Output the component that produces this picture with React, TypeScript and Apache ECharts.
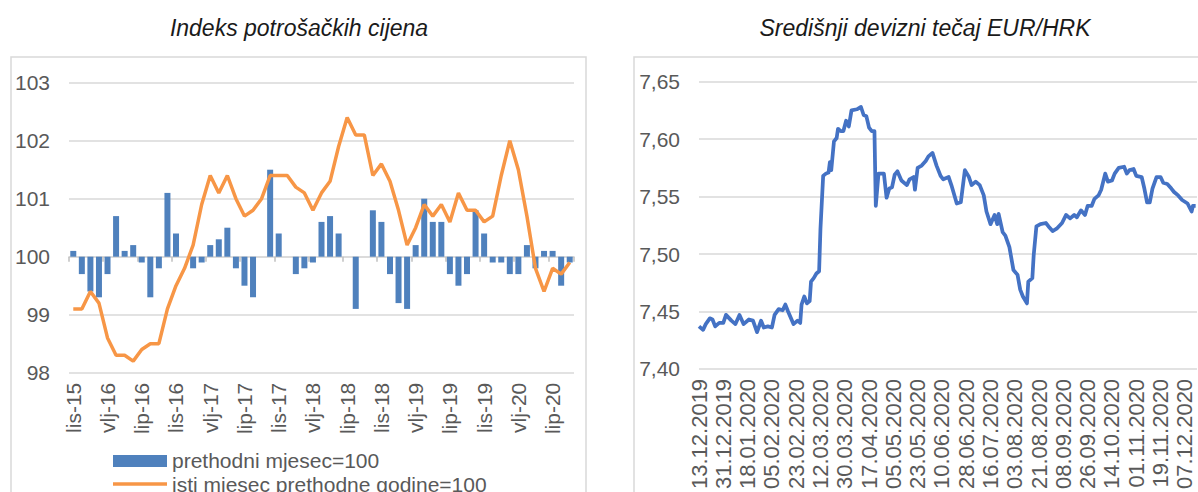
import React, { useEffect, useRef } from "react";
import * as echarts from "echarts";

// ---------- Left chart: consumer price index ----------
const MONTH_ABBR = ["sij", "vlj", "ožu", "tra", "svi", "lip", "srp", "kol", "ruj", "lis", "stu", "pro"];
const CPI_START_YEAR = 2015;
const CPI_START_MONTH = 9; // listopad (October), 0-based
const CPI_BASE = 100;

// prethodni mjesec = 100
const cpiMonthOnMonth = [
  100.1, 99.7, 99.4, 99.3, 99.7, 100.7, 100.1, 100.2, 99.9, 99.3,
  99.8, 101.1, 100.4, 100.0, 99.8, 99.9, 100.2, 100.3, 100.5, 99.8,
  99.5, 99.3, 100.0, 101.5, 100.4, 100.0, 99.7, 99.8, 99.9, 100.6,
  100.7, 100.4, 100.0, 99.1, 100.0, 100.8, 100.6, 99.7, 99.2, 99.1,
  100.2, 101.0, 100.6, 100.6, 99.7, 99.5, 99.7, 100.8, 100.4, 99.9,
  99.9, 99.7, 99.7, 100.2, 99.8, 100.1, 100.1, 99.5, 99.9,
];

// isti mjesec prethodne godine = 100
const cpiYearOnYear = [
  99.1, 99.1, 99.4, 99.2, 98.6, 98.3, 98.3, 98.2, 98.4, 98.5,
  98.5, 99.1, 99.5, 99.8, 100.2, 100.9, 101.4, 101.1, 101.4, 101.0,
  100.7, 100.8, 101.0, 101.4, 101.4, 101.4, 101.2, 101.1, 100.8, 101.1,
  101.3, 101.9, 102.4, 102.1, 102.1, 101.4, 101.6, 101.3, 100.8, 100.2,
  100.5, 100.9, 100.7, 100.9, 100.6, 101.1, 100.8, 100.8, 100.6, 100.7,
  101.4, 102.0, 101.5, 100.7, 99.8, 99.4, 99.8, 99.7, 99.9,
];

const cpiCategories = cpiMonthOnMonth.map((_, i) => {
  const k = CPI_START_MONTH + i;
  const m = k % 12;
  const y = CPI_START_YEAR + Math.floor(k / 12);
  return `${MONTH_ABBR[m]}-${String(y).slice(2)}`;
});

// ---------- Right chart: EUR/HRK central rate ----------
const RATE_START = Date.UTC(2019, 11, 13); // 13.12.2019
const RATE_DAY_COUNT = 370; // calendar days on the axis
// days after 13.12.2019
const rateDayOffsets = [
  0, 3, 5, 8, 10, 12, 15, 18, 20, 24, 27, 30, 33, 37, 40, 43, 46, 48, 51, 54,
  56, 59, 62, 64, 66, 70, 73, 75, 76, 78, 80, 82, 83, 85, 87, 89, 90, 92, 94, 96,
  97, 98, 100, 102, 103, 105, 107, 109, 111, 113, 117, 120, 122, 124, 126, 128, 130, 131, 133, 137,
  139, 141, 143, 145, 147, 150, 154, 156, 159, 160, 162, 165, 168, 170, 173, 176, 179, 181, 185, 187,
  191, 194, 197, 200, 202, 205, 208, 211, 213, 216, 219, 221, 222, 225, 227, 230, 233, 236, 238, 240,
  243, 244, 247, 248, 250, 253, 257, 259, 262, 265, 269, 272, 275, 278, 280, 283, 286, 288, 291, 293,
  296, 298, 301, 303, 306, 308, 311, 315, 317, 319, 322, 324, 328, 330, 332, 334, 336, 339, 342, 344,
  347, 350, 352, 355, 358, 362, 365, 366, 368,
];
const rateValues = [
  7.437, 7.434, 7.439, 7.444, 7.443, 7.437, 7.440, 7.440, 7.447, 7.442, 7.439, 7.447, 7.439, 7.443, 7.442, 7.432, 7.442, 7.436, 7.437, 7.436,
  7.447, 7.452, 7.451, 7.456, 7.450, 7.439, 7.442, 7.440, 7.456, 7.463, 7.457, 7.459, 7.476, 7.479, 7.483, 7.485, 7.522, 7.568, 7.570, 7.571,
  7.580, 7.573, 7.598, 7.601, 7.609, 7.607, 7.607, 7.616, 7.611, 7.625, 7.626, 7.628, 7.621, 7.620, 7.610, 7.607, 7.607, 7.542, 7.570, 7.570,
  7.549, 7.557, 7.558, 7.569, 7.572, 7.564, 7.560, 7.565, 7.567, 7.556, 7.575, 7.577, 7.581, 7.585, 7.588, 7.577, 7.568, 7.565, 7.567, 7.560,
  7.544, 7.545, 7.573, 7.567, 7.560, 7.563, 7.560, 7.551, 7.537, 7.526, 7.534, 7.526, 7.535, 7.519, 7.516, 7.506, 7.486, 7.482, 7.469, 7.463,
  7.457, 7.476, 7.479, 7.499, 7.524, 7.526, 7.527, 7.524, 7.520, 7.522, 7.527, 7.534, 7.531, 7.534, 7.532, 7.538, 7.534, 7.542, 7.542, 7.548,
  7.551, 7.556, 7.570, 7.563, 7.564, 7.570, 7.575, 7.576, 7.570, 7.573, 7.574, 7.568, 7.567, 7.557, 7.545, 7.545, 7.557, 7.567, 7.567, 7.562,
  7.561, 7.557, 7.554, 7.551, 7.547, 7.544, 7.537, 7.542, 7.542,
];

const pad2 = (n: number) => (n < 10 ? "0" + n : String(n));
const rateCategories: string[] = [];
for (let d = 0; d < RATE_DAY_COUNT; d++) {
  const dt = new Date(RATE_START + d * 86400000);
  rateCategories.push(`${pad2(dt.getUTCDate())}.${pad2(dt.getUTCMonth() + 1)}.${dt.getUTCFullYear()}`);
}
const rateSeriesData: (number | null)[] = rateCategories.map(() => null);
rateDayOffsets.forEach((d, i) => {
  rateSeriesData[d] = rateValues[i];
});

// ---------- Styling ----------
const FONT = '"Liberation Sans", Arial, sans-serif';
const GRID_COLOR = "#d9d9d9";
const LABEL_COLOR = "#595959";
const BAR_COLOR = "#4F81BD";
const ORANGE = "#F79646";
const RATE_BLUE = "#4472C4";

export default function App() {
  const ref = useRef<HTMLDivElement>(null);

  useEffect(() => {
    if (!ref.current) return;
    const chart = echarts.init(ref.current, null, { renderer: "svg" });

    const option: any = {
      animation: false,
      textStyle: { fontFamily: FONT },
      graphic: [
        {
          type: "rect",
          shape: { x: 11, y: 57, width: 575, height: 480 },
          style: { fill: "none", stroke: GRID_COLOR, lineWidth: 1.5 },
          silent: true,
        },
        {
          type: "rect",
          shape: { x: 634, y: 57, width: 620, height: 480 },
          style: { fill: "none", stroke: GRID_COLOR, lineWidth: 1.5 },
          silent: true,
        },
        {
          type: "text",
          x: 299,
          y: 28,
          style: {
            text: "Indeks potrošačkih cijena",
            fontFamily: FONT,
            fontSize: 23,
            fontStyle: "italic",
            fill: "#1a1a1a",
            align: "center",
            verticalAlign: "middle",
          },
        },
        {
          type: "text",
          x: 925,
          y: 28,
          style: {
            text: "Središnji devizni tečaj EUR/HRK",
            fontFamily: FONT,
            fontSize: 23,
            fontStyle: "italic",
            fill: "#1a1a1a",
            align: "center",
            verticalAlign: "middle",
          },
        },
        {
          type: "rect",
          shape: { x: 113, y: 455, width: 54, height: 12 },
          style: { fill: BAR_COLOR },
        },
        {
          type: "line",
          shape: { x1: 113, y1: 484, x2: 167, y2: 484 },
          style: { stroke: ORANGE, lineWidth: 3.5 },
        },
        {
          type: "text",
          x: 172,
          y: 460,
          style: {
            text: "prethodni mjesec=100",
            fontFamily: FONT,
            fontSize: 21,
            fill: LABEL_COLOR,
            align: "left",
            verticalAlign: "middle",
          },
        },
        {
          type: "text",
          x: 172,
          y: 484,
          style: {
            text: "isti mjesec prethodne godine=100",
            fontFamily: FONT,
            fontSize: 21,
            fill: LABEL_COLOR,
            align: "left",
            verticalAlign: "middle",
          },
        },
      ],
      grid: [
        { left: 69, top: 82.7, width: 505, height: 290 },
        { left: 699, top: 81.7, width: 498, height: 290 },
      ],
      xAxis: [
        {
          gridIndex: 0,
          type: "category",
          data: cpiCategories,
          position: "top",
          boundaryGap: true,
          axisLine: { show: true, onZero: true, lineStyle: { color: GRID_COLOR, width: 1.5 } },
          axisTick: { show: true, inside: true, interval: 3, length: 5, lineStyle: { color: "#bfbfbf", width: 1.5 } },
          axisLabel: { show: false },
          splitLine: { show: false },
        },
        {
          gridIndex: 0,
          type: "category",
          data: cpiCategories,
          position: "bottom",
          boundaryGap: true,
          axisLine: { show: false, onZero: false },
          axisTick: { show: false },
          axisLabel: {
            interval: 3,
            rotate: 90,
            fontSize: 21,
            fontFamily: FONT,
            color: LABEL_COLOR,
            margin: 10,
          },
          splitLine: { show: false },
        },
        {
          gridIndex: 1,
          type: "category",
          data: rateCategories,
          position: "bottom",
          boundaryGap: false,
          axisLine: { show: false, onZero: false },
          axisTick: { show: false },
          axisLabel: {
            interval: 17,
            rotate: 90,
            fontSize: 22,
            fontFamily: FONT,
            color: LABEL_COLOR,
            margin: 10,
          },
          splitLine: { show: false },
        },
      ],
      yAxis: [
        {
          gridIndex: 0,
          type: "value",
          min: -2,
          max: 3,
          interval: 1,
          axisLine: { show: false },
          axisTick: { show: false },
          axisLabel: {
            formatter: (v: number) => String(Math.round(v + CPI_BASE)),
            fontSize: 21,
            fontFamily: FONT,
            color: LABEL_COLOR,
            margin: 19,
          },
          splitLine: { show: true, lineStyle: { color: GRID_COLOR, width: 1.5 } },
        },
        {
          gridIndex: 1,
          type: "value",
          min: 7.4,
          max: 7.65,
          interval: 0.05,
          axisLine: { show: false },
          axisTick: { show: false },
          axisLabel: {
            formatter: (v: number) => v.toFixed(2).replace(".", ","),
            fontSize: 21,
            fontFamily: FONT,
            color: LABEL_COLOR,
            margin: 19,
          },
          splitLine: { show: true, lineStyle: { color: GRID_COLOR, width: 1.5 } },
        },
      ],
      series: [
        {
          name: "prethodni mjesec=100",
          type: "bar",
          xAxisIndex: 0,
          yAxisIndex: 0,
          data: cpiMonthOnMonth.map((v) => +(v - CPI_BASE).toFixed(3)),
          barWidth: 6,
          itemStyle: { color: BAR_COLOR },
          z: 2,
        },
        {
          name: "isti mjesec prethodne godine=100",
          type: "line",
          xAxisIndex: 0,
          yAxisIndex: 0,
          data: cpiYearOnYear.map((v) => +(v - CPI_BASE).toFixed(3)),
          symbol: "none",
          lineStyle: { color: ORANGE, width: 3.5 },
          itemStyle: { color: ORANGE },
          z: 3,
        },
        {
          name: "EUR/HRK",
          type: "line",
          xAxisIndex: 2,
          yAxisIndex: 1,
          data: rateSeriesData,
          connectNulls: true,
          symbol: "none",
          lineStyle: { color: RATE_BLUE, width: 3.75, join: "round" },
          itemStyle: { color: RATE_BLUE },
          z: 3,
        },
      ],
    };

    chart.setOption(option);
    return () => chart.dispose();
  }, []);

  return (
    <div
      ref={ref}
      style={{ position: "absolute", left: 0, top: 0, width: 1198, height: 492, background: "#fff" }}
    />
  );
}
